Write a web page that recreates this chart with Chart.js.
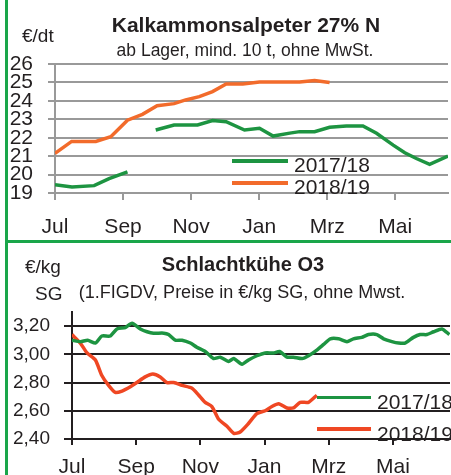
<!DOCTYPE html>
<html>
<head>
<meta charset="utf-8">
<script src="https://cdn.jsdelivr.net/npm/chart.js@4.4.0/dist/chart.umd.min.js"></script>
<style>
body { margin: 0; background: #fff; }
#page { position: relative; width: 451px; height: 475px; overflow: hidden; font-family: "Liberation Sans", Arial, sans-serif; color: #231f20; }
canvas { position: absolute; left: 0; }
.t { position: absolute; line-height: 1; white-space: nowrap; }
.c { text-align: center; }
.b { font-weight: bold; }
.key { position: absolute; height: 3.5px; }
.frame { position: absolute; background: #1aa64a; }
</style>
</head>
<body>
<div id="page">
  <canvas id="kasChart" width="451" height="240" style="top:0"></canvas>
  <canvas id="skChart" width="451" height="235" style="top:240px"></canvas>

  <!-- top panel texts -->
  <div class="t c b" style="left:96px;width:300px;top:14px;font-size:21px">Kalkammonsalpeter 27% N</div>
  <div class="t c" style="left:95px;width:300px;top:42px;font-size:17.5px">ab Lager, mind. 10 t, ohne MwSt.</div>
  <div class="t" style="left:22px;top:26px;font-size:19px">€/dt</div>
  <div class="key" style="left:232px;width:56px;top:159px;background:#1d9441"></div>
  <div class="key" style="left:232px;width:56px;top:181px;background:#f26b2b"></div>
  <div class="t" style="left:294px;top:154px;font-size:21px">2017/18</div>
  <div class="t" style="left:294px;top:176px;font-size:21px">2018/19</div>

  <!-- bottom panel texts -->
  <div class="t c b" style="left:93px;width:300px;top:254px;font-size:20px">Schlachtkühe O3</div>
  <div class="t c" style="left:42px;width:400px;top:283px;font-size:18px">(1.FIGDV, Preise in €/kg SG, ohne Mwst.</div>
  <div class="t" style="left:25px;top:257px;font-size:19px">€/kg</div>
  <div class="t" style="left:35px;top:284px;font-size:19px">SG</div>
  <div class="key" style="left:317px;width:54px;top:395.5px;background:#1d9441"></div>
  <div class="key" style="left:317px;width:54px;top:427px;background:#ef4723"></div>
  <div class="t" style="left:377px;top:391px;font-size:21px">2017/18</div>
  <div class="t" style="left:377px;top:423px;font-size:21px">2018/19</div>

  <div class="frame" style="left:5px;top:0;width:3px;height:475px"></div>
  <div class="frame" style="left:5px;top:240px;width:446px;height:3px"></div>
</div>

<script>
// x values are months after 1 July
const tickMonths = [0, 2, 4, 6, 8, 10];
const tickLabels = ['Jul', 'Sep', 'Nov', 'Jan', 'Mrz', 'Mai'];

// Kalkammonsalpeter 27% N, EUR/dt
const kasMonths1718 = [0, 0.5, 1.15, 1.59, 2.13, 2.55, 2.96, 3.5, 4.19, 4.63, 5.03, 5.57, 6.01, 6.41, 6.9, 7.19, 7.63, 8.07, 8.56, 9.05, 9.45, 9.94, 10.28, 10.62, 11.01, 11.55];
const kasPrice1718 = [19.45, 19.33, 19.4, 19.78, 20.15, null, 22.42, 22.69, 22.69, 22.93, 22.87, 22.42, 22.51, 22.09, 22.25, 22.33, 22.33, 22.57, 22.64, 22.64, 22.24, 21.6, 21.18, 20.87, 20.55, 21.0];
const kasMonths1819 = [0, 0.49, 1.2, 1.64, 2.13, 2.57, 3.0, 3.5, 3.84, 4.24, 4.63, 5.03, 5.52, 6.01, 6.5, 7.19, 7.63, 8.07];
const kasPrice1819 = [21.15, 21.8, 21.8, 22.05, 22.95, 23.27, 23.74, 23.85, 24.05, 24.23, 24.5, 24.91, 24.91, 25.02, 25.02, 25.02, 25.11, 25.0];
const kasTicks = [19, 20, 21, 22, 23, 24, 25, 26];

// Schlachtkuehe O3, EUR/kg SG
const skMonths1718 = [0, 0.26, 0.49, 0.73, 0.93, 1.19, 1.4, 1.66, 1.87, 2.13, 2.34, 2.54, 2.86, 3.01, 3.22, 3.43, 3.69, 3.89, 4.15, 4.41, 4.62, 4.88, 5.04, 5.3, 5.5, 5.76, 6.02, 6.28, 6.47, 6.7, 6.9, 7.17, 7.37, 7.63, 7.84, 8.05, 8.31, 8.57, 8.77, 9.03, 9.24, 9.5, 9.71, 9.97, 10.18, 10.38, 10.64, 10.85, 11.06, 11.27, 11.53, 11.76];
const skPrice1718 = [3.10, 3.09, 3.10, 3.08, 3.13, 3.13, 3.18, 3.19, 3.22, 3.18, 3.16, 3.15, 3.15, 3.14, 3.10, 3.10, 3.08, 3.05, 3.02, 2.97, 2.98, 2.95, 2.97, 2.93, 2.96, 2.99, 3.01, 3.01, 3.02, 2.98, 2.98, 2.97, 2.99, 3.03, 3.07, 3.11, 3.11, 3.09, 3.11, 3.12, 3.14, 3.14, 3.11, 3.09, 3.08, 3.08, 3.12, 3.14, 3.14, 3.16, 3.18, 3.14];
const skMonths1819 = [0, 0.26, 0.47, 0.73, 0.93, 1.14, 1.35, 1.56, 1.82, 2.02, 2.28, 2.52, 2.75, 2.96, 3.17, 3.43, 3.74, 3.95, 4.15, 4.36, 4.57, 4.83, 5.04, 5.24, 5.5, 5.76, 6.02, 6.23, 6.44, 6.7, 6.9, 7.11, 7.37, 7.63];
const skPrice1819 = [3.14, 3.08, 3.01, 2.96, 2.85, 2.78, 2.73, 2.74, 2.77, 2.80, 2.84, 2.86, 2.84, 2.80, 2.80, 2.78, 2.76, 2.71, 2.66, 2.63, 2.54, 2.49, 2.44, 2.45, 2.51, 2.58, 2.60, 2.63, 2.65, 2.62, 2.62, 2.66, 2.66, 2.71];
const skTicks = [2.4, 2.6, 2.8, 3.0, 3.2];

Chart.defaults.font.family = '"Liberation Sans", Arial, sans-serif';
Chart.defaults.color = '#231f20';

function points(xs, ys) {
    return xs.map((x, i) => ({ x: x, y: ys[i] }));
}

function line(label, xs, ys, color, tension) {
    return {
        label: label,
        data: points(xs, ys),
        borderColor: color,
        borderWidth: 3.5,
        pointRadius: 0,
        tension: tension,
        spanGaps: false
    };
}

function monthAxis(max, color, tickLen, pad, height) {
    return {
        type: 'linear',
        min: 0,
        max: max,
        afterBuildTicks: s => { s.ticks = tickMonths.map(v => ({ value: v })); },
        afterFit: s => { s.height = height; },
        ticks: {
            callback: v => tickLabels[tickMonths.indexOf(v)],
            font: { size: 21 },
            padding: pad,
            maxRotation: 0,
            autoSkip: false
        },
        grid: { drawOnChartArea: false, tickLength: tickLen, color: color, lineWidth: 2 },
        border: { color: color, width: 2 }
    };
}

function valueAxis(min, max, ticks, fmt, size, width, tickLen, pad, color) {
    return {
        min: min,
        max: max,
        afterFit: s => { s.width = width; },
        afterBuildTicks: s => { s.ticks = ticks.map(v => ({ value: v })); },
        ticks: { callback: fmt, font: { size: size }, padding: pad, autoSkip: false },
        grid: { tickLength: tickLen, color: color, lineWidth: 2 },
        border: { color: color, width: 2 }
    };
}

const common = {
    responsive: false,
    animation: false,
    devicePixelRatio: 1,
    plugins: { legend: { display: false }, tooltip: { enabled: false } }
};

// Kalkammonsalpeter
new Chart(document.getElementById('kasChart'), {
    type: 'line',
    data: {
        datasets: [
            line('2017/18', kasMonths1718, kasPrice1718, '#1d9441', 0),
            line('2018/19', kasMonths1819, kasPrice1819, '#f26b2b', 0)
        ]
    },
    options: Object.assign({}, common, {
        layout: { padding: { top: 64, right: 3, left: 0, bottom: 0 } },
        scales: {
            x: monthAxis(11.55, '#999', 7, 15, 47),
            y: valueAxis(19, 26, kasTicks, v => String(v), 21, 55, 7, 15, '#999')
        }
    })
});

// Schlachtkuehe O3
new Chart(document.getElementById('skChart'), {
    type: 'line',
    data: {
        datasets: [
            line('2017/18', skMonths1718, skPrice1718, '#1d9441', 0.2),
            line('2018/19', skMonths1819, skPrice1819, '#ef4723', 0.2)
        ]
    },
    options: Object.assign({}, common, {
        layout: { padding: { top: 72, right: 1, left: 0, bottom: 0 } },
        scales: {
            x: monthAxis(11.78, '#231f20', 6, 10, 36),
            y: valueAxis(2.4, 3.3, skTicks, v => v.toFixed(2).replace('.', ','), 19, 72, 8, 14, '#231f20')
        }
    })
});
</script>
</body>
</html>
